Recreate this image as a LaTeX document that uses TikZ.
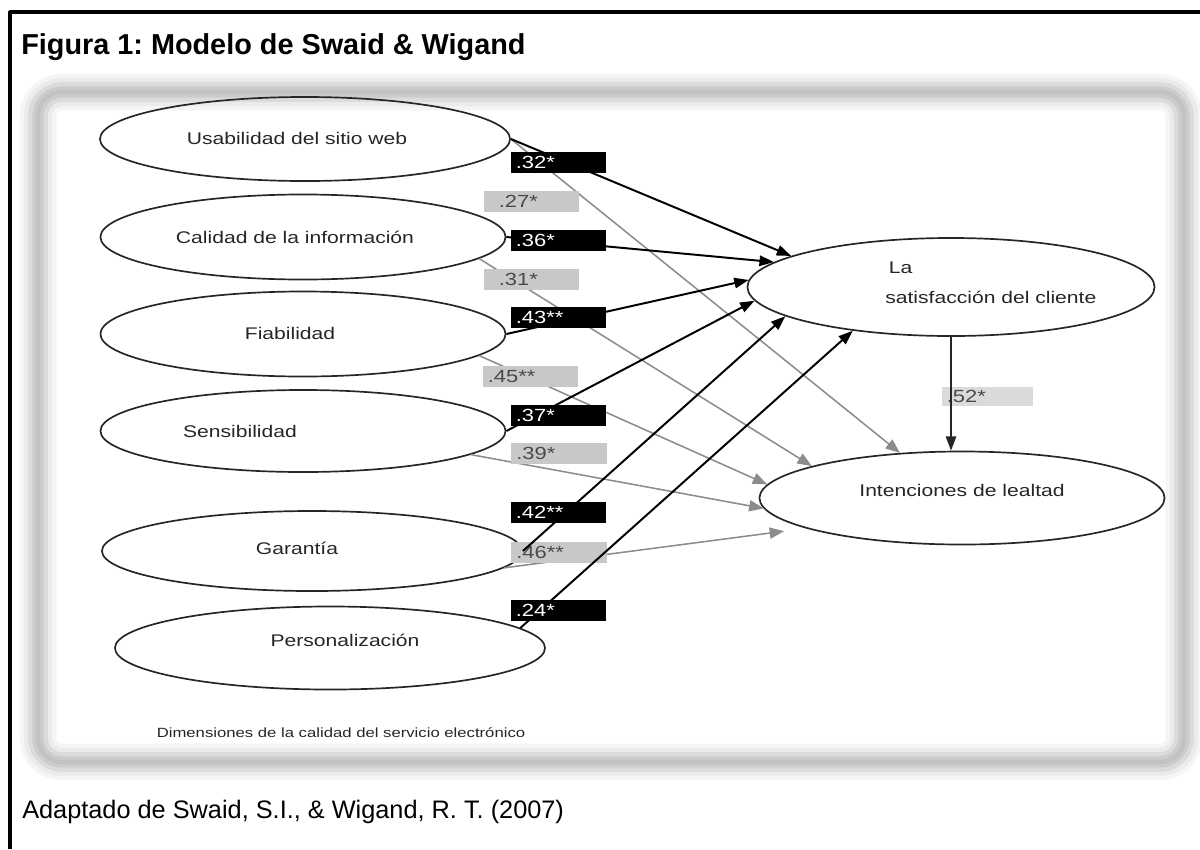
\documentclass[tikz,border=0pt]{standalone}
\usepackage{fontspec}
\setmainfont{Liberation Sans}
\usepackage{graphicx}
\usepackage{tikz}
\usetikzlibrary{arrows.meta,calc,shapes.geometric}
\frenchspacing
\definecolor{ink}{HTML}{262626}
\definecolor{pathgrey}{HTML}{8C8C8C}
\definecolor{boxgrey}{HTML}{C8C8C8}
\definecolor{boxgreylight}{HTML}{DADADA}
\definecolor{boxtext}{HTML}{4A4A4A}
\newcommand{\wtxt}[1]{\scalebox{1.25}[1]{#1}}
\tikzset{
    every picture/.style={line join=round},
    construct/.style={ellipse,draw=ink,line width=1.2pt,inner sep=0pt},
    cname/.style={text=ink,inner sep=0pt,font=\fontsize{12}{21}\selectfont},
    coefbox/.style={rectangle,minimum height=0.525cm,inner ysep=0pt,inner xsep=0.12cm,
      text width=2.135cm,align=left,font=\fontsize{12.5}{13}\selectfont},
    coefblack/.style={coefbox,fill=black,text=white},
    coefgrey/.style={coefbox,fill=boxgrey,text=boxtext},
    satpath/.style={-{Triangle[length=3.6mm,width=2.6mm]},draw=black,line width=1.4pt},
    lealpath/.style={-{Triangle[length=3.6mm,width=2.8mm]},draw=pathgrey,line width=1.1pt}
}

\begin{document}
\begin{tikzpicture}[x=0.025cm,y=-0.025cm]
  \useasboundingbox (0,0) rectangle (1200,849);
  \draw[line width=2.2pt] (10,849) -- (10,12) -- (1200,12);
  \node[anchor=west,inner sep=0pt,font=\fontsize{20.5}{25}\selectfont\bfseries] (title) at (21,47) {Figura 1: Modelo de Swaid \& Wigand};
  \node[anchor=west,inner sep=0pt,font=\fontsize{18}{22}\selectfont] (source) at (22,812) {Adaptado de Swaid, S.I., \& Wigand, R. T. (2007)};
  % soft frame round the figure
  \foreach \w/\c in {26pt/4,20pt/8,14pt/14,8pt/20,3pt/24}
    \draw[line width=\w,draw=black!\c,rounded corners=0.6cm] (38,92) rectangle (1184,762);

  \node[construct,minimum width=10.25cm,minimum height=2.1cm] (usab) at (305,139) {};
  \node[construct,minimum width=10.125cm,minimum height=2.125cm] (cal) at (303,237) {};
  \node[construct,minimum width=10.125cm,minimum height=2.125cm] (fiab) at (303,334) {};
  \node[construct,minimum width=10.125cm,minimum height=2.05cm] (sens) at (303,431) {};
  \node[construct,minimum width=10.5cm,minimum height=2cm] (gar) at (312,551) {};
  \node[construct,minimum width=10.75cm,minimum height=2.075cm] (pers) at (330,648) {};
  \node[construct,minimum width=10.175cm,minimum height=2.45cm] (sat) at (951,287) {};
  \node[construct,minimum width=10.125cm,minimum height=2.325cm] (leal) at (962,498) {};

  \node[cname] (usab-t) at (297,138) {\wtxt{Usabilidad del sitio web}};
  \node[cname] (cal-t) at (295,237) {\wtxt{Calidad de la información}};
  \node[cname] (fiab-t) at (290,333) {\wtxt{Fiabilidad}};
  \node[cname] (sens-t) at (240,431) {\wtxt{Sensibilidad}};
  \node[cname] (gar-t) at (297,548) {\wtxt{Garantía}};
  \node[cname] (pers-t) at (345,640) {\wtxt{Personalización}};
  \node[cname,align=left,anchor=west] (sat-t) at (885,283) {\wtxt{\,La}\\\wtxt{satisfacción del cliente}};
  \node[cname] (leal-t) at (962,490) {\wtxt{Intenciones de lealtad}};
  \node[cname,font=\fontsize{9.5}{11}\selectfont] (dims) at (341,733) {\wtxt{Dimensiones de la calidad del servicio electrónico}};

  % paths to loyalty
  \draw[lealpath] (usab.east) -- (leal.144);
  \draw[lealpath] (cal.-7) -- (leal.168);
  \draw[lealpath] (fiab.-7) -- (leal.176);
  \draw[lealpath] (sens.-8) -- (leal.183);
  \draw[lealpath,shorten >=0.55cm] (gar.-5) -- (leal.191);
  \node[coefgrey] (c27) at (531.5,201.5) {\wtxt{\hspace*{0.2cm}.27*}};
  \node[coefgrey] (c31) at (531.5,279.5) {\wtxt{\hspace*{0.2cm}.31*}};
  \node[coefgrey] (c45) at (530.5,376.5) {\wtxt{.45**}};
  \node[coefgrey] (c39) at (559,453.5) {\wtxt{.39*}};
  \node[coefgrey] (c46) at (559,552) {\wtxt{.46**}};

  % paths to satisfaction
  \draw[satpath] (usab.east) -- (sat.169);
  \draw[satpath] (cal.east) -- (sat.172);
  \draw[satpath] (fiab.east) -- (sat.178);
  \draw[satpath] (sens.east) -- (sat.184);
  \draw[satpath] (gar.east) -- (sat.190);
  \draw[satpath] (pers.6) -- (sat.204);
  \node[coefblack] (c32) at (558.5,162.5) {\wtxt{.32*}};
  \node[coefblack] (c36) at (558.5,240) {\wtxt{.36*}};
  \node[coefblack] (c43) at (558.5,317.5) {\wtxt{.43**}};
  \node[coefblack] (c37) at (558.5,415.5) {\wtxt{.37*}};
  \node[coefblack] (c42) at (558.5,512.5) {\wtxt{.42**}};
  \node[coefblack] (c24) at (558.5,610) {\wtxt{.24*}};

  \node[coefgrey,fill=boxgreylight,minimum height=0.475cm,text width=2.035cm] (c52) at (987.5,396.5) {\wtxt{.52*}};
  \draw[satpath,draw=ink] (sat.south) -- (sat.south |- leal.north);
\end{tikzpicture}
\end{document}
